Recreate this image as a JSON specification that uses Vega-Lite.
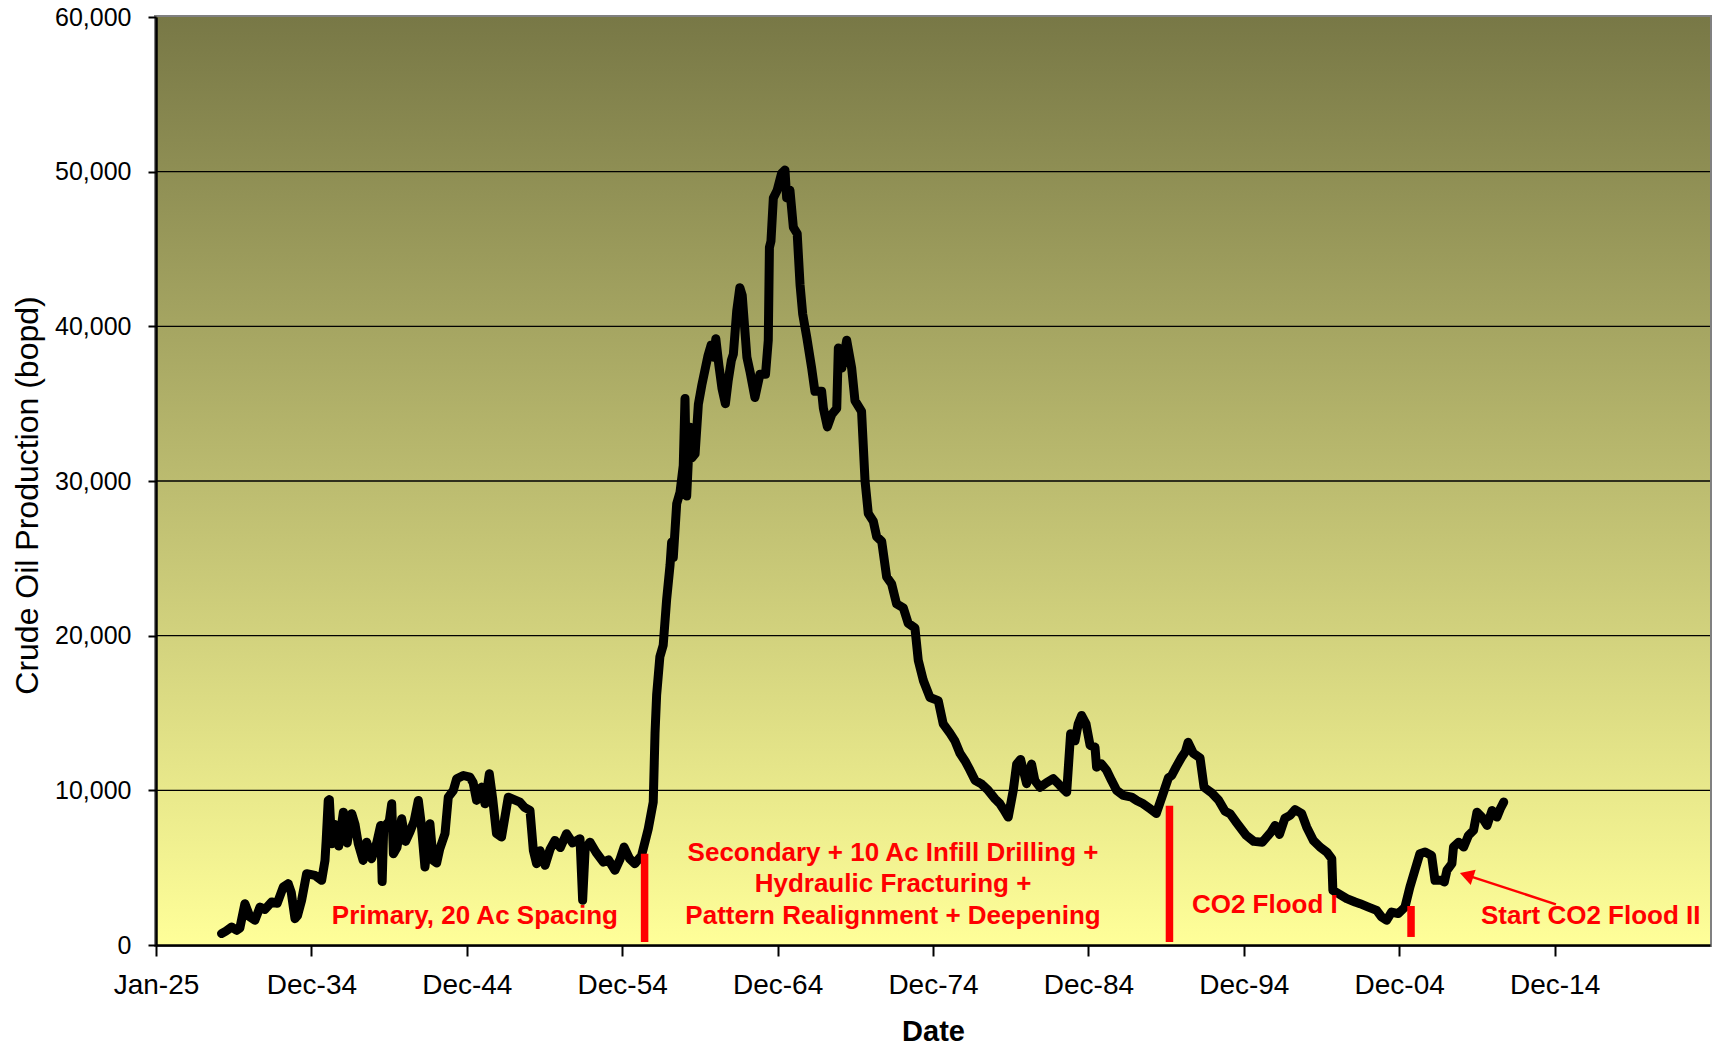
{
  "$schema": "https://vega.github.io/schema/vega-lite/v6.json",
  "width": 1554,
  "height": 928,
  "autosize": {"type": "none"},
  "padding": {"left": 156, "top": 17, "right": 15, "bottom": 100},
  "background": "white",
  "config": {"view": {"stroke": "#808080", "strokeWidth": 4}, "font": "Liberation Sans"},
  "datasets": {
    "frame": [{"date": "1925-01-01", "date2": "2024-12-07", "value": 0, "value2": 60000}],
    "grid": [{"value": 10000}, {"value": 20000}, {"value": 30000}, {"value": 40000}, {"value": 50000}],
    "bars": [
      {"date": "1956-06-03", "value": 200, "value2": 5900},
      {"date": "1990-03-05", "value": 200, "value2": 9000},
      {"date": "2005-09-16", "value": 520, "value2": 2520}
    ],
    "labels": [
      {"date": "1945-07-05", "value": 1867, "label": "Primary, 20 Ac Spacing"},
      {"date": "1972-05-25", "value": 5956, "label": "Secondary + 10 Ac Infill Drilling +\nHydraulic Fracturing +\nPattern Realignment + Deepening"},
      {"date": "1996-04-22", "value": 2565, "label": "CO2 Flood I"},
      {"date": "2017-04-07", "value": 1900, "label": "Start CO2 Flood II"}
    ],
    "arrow": [{"date": "2015-01-10", "value": 2630, "date2": "2009-04-12", "value2": 4516}],
    "arrowhead": [{"date": "2009-04-12", "value": 4516}],
    "production": [
      {"date": "1929-03-20", "value": 740},
      {"date": "1929-07-01", "value": 900},
      {"date": "1929-11-14", "value": 1160},
      {"date": "1930-03-09", "value": 950},
      {"date": "1930-05-25", "value": 1100},
      {"date": "1930-09-20", "value": 2670},
      {"date": "1931-01-19", "value": 1810},
      {"date": "1931-05-14", "value": 1600},
      {"date": "1931-09-09", "value": 2450},
      {"date": "1932-01-01", "value": 2300},
      {"date": "1932-06-09", "value": 2780},
      {"date": "1932-10-19", "value": 2700},
      {"date": "1933-03-09", "value": 3750},
      {"date": "1933-07-04", "value": 3970},
      {"date": "1933-09-13", "value": 3400},
      {"date": "1933-12-09", "value": 1705},
      {"date": "1934-02-07", "value": 1900},
      {"date": "1934-05-14", "value": 2890},
      {"date": "1934-09-09", "value": 4610},
      {"date": "1935-03-23", "value": 4500},
      {"date": "1935-08-28", "value": 4180},
      {"date": "1935-11-14", "value": 5470},
      {"date": "1935-12-13", "value": 6800},
      {"date": "1936-01-29", "value": 9350},
      {"date": "1936-02-25", "value": 9400},
      {"date": "1936-04-19", "value": 6550},
      {"date": "1936-07-01", "value": 7800},
      {"date": "1936-10-01", "value": 6400},
      {"date": "1937-01-19", "value": 8590},
      {"date": "1937-04-19", "value": 6600},
      {"date": "1937-08-03", "value": 8490},
      {"date": "1937-10-19", "value": 7800},
      {"date": "1938-01-04", "value": 6550},
      {"date": "1938-04-29", "value": 5470},
      {"date": "1938-07-19", "value": 6650},
      {"date": "1938-11-14", "value": 5580},
      {"date": "1939-03-13", "value": 6600},
      {"date": "1939-06-13", "value": 7730},
      {"date": "1939-07-19", "value": 4100},
      {"date": "1939-08-25", "value": 7600},
      {"date": "1940-01-01", "value": 8000},
      {"date": "1940-02-28", "value": 9130},
      {"date": "1940-04-08", "value": 5900},
      {"date": "1940-07-01", "value": 6300},
      {"date": "1940-10-19", "value": 8160},
      {"date": "1941-01-19", "value": 6700},
      {"date": "1941-04-29", "value": 7300},
      {"date": "1941-08-07", "value": 8000},
      {"date": "1941-11-14", "value": 9350},
      {"date": "1942-01-19", "value": 7900},
      {"date": "1942-04-19", "value": 5040},
      {"date": "1942-08-14", "value": 7840},
      {"date": "1942-10-29", "value": 5470},
      {"date": "1943-01-19", "value": 5300},
      {"date": "1943-04-01", "value": 6200},
      {"date": "1943-08-03", "value": 7200},
      {"date": "1943-10-19", "value": 9560},
      {"date": "1944-02-14", "value": 9990},
      {"date": "1944-05-03", "value": 10750},
      {"date": "1944-10-08", "value": 10960},
      {"date": "1945-03-09", "value": 10850},
      {"date": "1945-05-25", "value": 10500},
      {"date": "1945-08-14", "value": 9350},
      {"date": "1945-12-13", "value": 10210},
      {"date": "1946-02-28", "value": 9130},
      {"date": "1946-06-09", "value": 11070},
      {"date": "1946-08-25", "value": 9500},
      {"date": "1946-11-25", "value": 7200},
      {"date": "1947-03-23", "value": 6980},
      {"date": "1947-08-28", "value": 9560},
      {"date": "1948-05-28", "value": 9240},
      {"date": "1948-09-13", "value": 8900},
      {"date": "1949-01-19", "value": 8700},
      {"date": "1949-04-08", "value": 6120},
      {"date": "1949-06-23", "value": 5260},
      {"date": "1949-09-13", "value": 6100},
      {"date": "1950-01-08", "value": 5150},
      {"date": "1950-05-07", "value": 6200},
      {"date": "1950-08-28", "value": 6760},
      {"date": "1951-01-01", "value": 6300},
      {"date": "1951-05-28", "value": 7200},
      {"date": "1951-10-19", "value": 6600},
      {"date": "1952-04-08", "value": 6870},
      {"date": "1952-06-09", "value": 2890},
      {"date": "1952-08-07", "value": 6200},
      {"date": "1952-11-28", "value": 6650},
      {"date": "1953-04-19", "value": 6000},
      {"date": "1953-10-08", "value": 5360},
      {"date": "1954-02-07", "value": 5500},
      {"date": "1954-07-08", "value": 4830},
      {"date": "1954-11-03", "value": 5540},
      {"date": "1955-02-07", "value": 6330},
      {"date": "1955-06-13", "value": 5600},
      {"date": "1955-10-19", "value": 5260},
      {"date": "1956-03-23", "value": 5780},
      {"date": "1956-08-28", "value": 7510},
      {"date": "1956-12-23", "value": 9240},
      {"date": "1957-02-03", "value": 13700},
      {"date": "1957-03-13", "value": 16170},
      {"date": "1957-05-28", "value": 18640},
      {"date": "1957-08-14", "value": 19380},
      {"date": "1957-11-03", "value": 22350},
      {"date": "1958-01-22", "value": 24570},
      {"date": "1958-02-28", "value": 26050},
      {"date": "1958-04-08", "value": 25060},
      {"date": "1958-06-27", "value": 28530},
      {"date": "1958-09-13", "value": 29270},
      {"date": "1958-11-28", "value": 31000},
      {"date": "1959-01-08", "value": 35330},
      {"date": "1959-02-17", "value": 29030},
      {"date": "1959-05-03", "value": 33480},
      {"date": "1959-06-13", "value": 31490},
      {"date": "1959-09-02", "value": 31750},
      {"date": "1959-11-18", "value": 34960},
      {"date": "1960-02-07", "value": 36200},
      {"date": "1960-04-22", "value": 37190},
      {"date": "1960-07-01", "value": 38100},
      {"date": "1960-09-13", "value": 38800},
      {"date": "1960-11-07", "value": 38000},
      {"date": "1961-01-01", "value": 39200},
      {"date": "1961-03-13", "value": 37500},
      {"date": "1961-05-25", "value": 36000},
      {"date": "1961-08-14", "value": 35000},
      {"date": "1961-10-19", "value": 36500},
      {"date": "1962-01-01", "value": 37800},
      {"date": "1962-02-17", "value": 38200},
      {"date": "1962-05-07", "value": 41000},
      {"date": "1962-07-19", "value": 42500},
      {"date": "1962-09-13", "value": 42000},
      {"date": "1962-11-07", "value": 40000},
      {"date": "1963-01-01", "value": 38000},
      {"date": "1963-03-13", "value": 37100},
      {"date": "1963-07-08", "value": 35400},
      {"date": "1963-11-03", "value": 36900},
      {"date": "1964-03-13", "value": 36900},
      {"date": "1964-05-17", "value": 39100},
      {"date": "1964-06-13", "value": 45100},
      {"date": "1964-07-19", "value": 45500},
      {"date": "1964-09-13", "value": 48300},
      {"date": "1964-12-13", "value": 48800},
      {"date": "1965-03-27", "value": 49900},
      {"date": "1965-06-13", "value": 50100},
      {"date": "1965-07-23", "value": 48300},
      {"date": "1965-10-08", "value": 48800},
      {"date": "1965-12-27", "value": 46400},
      {"date": "1966-03-27", "value": 46000},
      {"date": "1966-06-02", "value": 42700},
      {"date": "1966-08-03", "value": 40800},
      {"date": "1966-11-07", "value": 39300},
      {"date": "1967-03-02", "value": 37300},
      {"date": "1967-05-17", "value": 35800},
      {"date": "1967-10-22", "value": 35800},
      {"date": "1967-12-02", "value": 34700},
      {"date": "1968-03-05", "value": 33500},
      {"date": "1968-06-16", "value": 34300},
      {"date": "1968-10-11", "value": 34700},
      {"date": "1968-11-18", "value": 38600},
      {"date": "1969-02-07", "value": 37300},
      {"date": "1969-06-02", "value": 39100},
      {"date": "1969-09-27", "value": 37300},
      {"date": "1969-12-13", "value": 35200},
      {"date": "1970-05-17", "value": 34500},
      {"date": "1970-08-07", "value": 30000},
      {"date": "1970-10-22", "value": 27900},
      {"date": "1971-02-17", "value": 27400},
      {"date": "1971-05-07", "value": 26400},
      {"date": "1971-09-02", "value": 26100},
      {"date": "1971-12-27", "value": 23800},
      {"date": "1972-04-22", "value": 23350},
      {"date": "1972-08-17", "value": 22050},
      {"date": "1973-01-22", "value": 21800},
      {"date": "1973-05-17", "value": 20800},
      {"date": "1973-10-22", "value": 20500},
      {"date": "1974-01-08", "value": 18400},
      {"date": "1974-05-07", "value": 17100},
      {"date": "1974-10-11", "value": 16000},
      {"date": "1975-04-22", "value": 15800},
      {"date": "1975-08-17", "value": 14300},
      {"date": "1976-01-22", "value": 13700},
      {"date": "1976-05-17", "value": 13200},
      {"date": "1976-09-13", "value": 12400},
      {"date": "1977-01-11", "value": 11900},
      {"date": "1977-05-07", "value": 11300},
      {"date": "1977-09-02", "value": 10650},
      {"date": "1978-02-07", "value": 10400},
      {"date": "1978-07-08", "value": 10000},
      {"date": "1978-12-16", "value": 9450},
      {"date": "1979-04-11", "value": 9130},
      {"date": "1979-07-19", "value": 8700},
      {"date": "1979-10-22", "value": 8270},
      {"date": "1980-02-17", "value": 10000},
      {"date": "1980-05-07", "value": 11700},
      {"date": "1980-08-07", "value": 12000},
      {"date": "1980-12-27", "value": 10430},
      {"date": "1981-04-22", "value": 11700},
      {"date": "1981-07-08", "value": 10640},
      {"date": "1981-11-07", "value": 10200},
      {"date": "1982-04-11", "value": 10500},
      {"date": "1982-09-13", "value": 10750},
      {"date": "1983-01-11", "value": 10430},
      {"date": "1983-03-27", "value": 10200},
      {"date": "1983-07-26", "value": 9880},
      {"date": "1983-10-26", "value": 13660},
      {"date": "1984-02-07", "value": 13200},
      {"date": "1984-04-22", "value": 14300},
      {"date": "1984-07-11", "value": 14840},
      {"date": "1984-10-22", "value": 14300},
      {"date": "1985-01-26", "value": 12900},
      {"date": "1985-05-21", "value": 12800},
      {"date": "1985-06-27", "value": 11500},
      {"date": "1985-10-22", "value": 11700},
      {"date": "1986-02-17", "value": 11300},
      {"date": "1986-06-13", "value": 10640},
      {"date": "1986-10-11", "value": 10000},
      {"date": "1987-03-16", "value": 9670},
      {"date": "1987-09-27", "value": 9560},
      {"date": "1988-01-22", "value": 9350},
      {"date": "1988-06-27", "value": 9130},
      {"date": "1988-12-02", "value": 8810},
      {"date": "1989-04-29", "value": 8500},
      {"date": "1989-09-13", "value": 9600},
      {"date": "1990-02-07", "value": 10800},
      {"date": "1990-04-26", "value": 10960},
      {"date": "1990-08-07", "value": 11500},
      {"date": "1990-12-16", "value": 12140},
      {"date": "1991-03-13", "value": 12500},
      {"date": "1991-05-17", "value": 13100},
      {"date": "1991-09-16", "value": 12400},
      {"date": "1992-02-21", "value": 12100},
      {"date": "1992-05-25", "value": 10200},
      {"date": "1992-11-21", "value": 9830},
      {"date": "1993-05-07", "value": 9350},
      {"date": "1993-10-01", "value": 8650},
      {"date": "1994-01-26", "value": 8490},
      {"date": "1994-07-01", "value": 7900},
      {"date": "1995-02-07", "value": 7100},
      {"date": "1995-08-07", "value": 6700},
      {"date": "1996-02-25", "value": 6650},
      {"date": "1996-09-13", "value": 7300},
      {"date": "1996-12-20", "value": 7730},
      {"date": "1997-04-01", "value": 7150},
      {"date": "1997-08-07", "value": 8200},
      {"date": "1997-12-06", "value": 8380},
      {"date": "1998-04-01", "value": 8750},
      {"date": "1998-09-06", "value": 8490},
      {"date": "1999-01-01", "value": 7620},
      {"date": "1999-06-06", "value": 6760},
      {"date": "1999-11-11", "value": 6330},
      {"date": "2000-04-15", "value": 6010},
      {"date": "2000-08-11", "value": 5580},
      {"date": "2000-09-06", "value": 3530},
      {"date": "2001-01-15", "value": 3320},
      {"date": "2001-07-29", "value": 3000},
      {"date": "2002-02-10", "value": 2780},
      {"date": "2002-06-06", "value": 2670},
      {"date": "2002-12-20", "value": 2450},
      {"date": "2003-07-01", "value": 2240},
      {"date": "2003-10-26", "value": 1810},
      {"date": "2004-02-21", "value": 1600},
      {"date": "2004-06-16", "value": 2130},
      {"date": "2004-11-21", "value": 2030},
      {"date": "2005-04-26", "value": 2450},
      {"date": "2005-08-21", "value": 3750},
      {"date": "2005-12-16", "value": 4830},
      {"date": "2006-04-11", "value": 5900},
      {"date": "2006-08-11", "value": 6010},
      {"date": "2007-01-11", "value": 5790},
      {"date": "2007-04-01", "value": 4180},
      {"date": "2007-09-06", "value": 4180},
      {"date": "2007-11-07", "value": 4070},
      {"date": "2008-01-08", "value": 4830},
      {"date": "2008-05-03", "value": 5260},
      {"date": "2008-06-09", "value": 6330},
      {"date": "2008-10-08", "value": 6650},
      {"date": "2009-02-03", "value": 6330},
      {"date": "2009-05-28", "value": 7090},
      {"date": "2009-09-23", "value": 7410},
      {"date": "2009-12-13", "value": 8590},
      {"date": "2010-04-08", "value": 8270},
      {"date": "2010-08-07", "value": 7730},
      {"date": "2010-12-02", "value": 8700},
      {"date": "2011-03-27", "value": 8270},
      {"date": "2011-06-13", "value": 8810},
      {"date": "2011-09-02", "value": 9240}
    ]
  },
  "layer": [
    {
      "data": {"name": "frame"},
      "mark": {"type": "rect", "color": {"gradient": "linear", "x1": 0, "y1": 0, "x2": 0, "y2": 1, "stops": [{"offset": 0, "color": "#787846"}, {"offset": 1, "color": "#ffff99"}]}},
      "encoding": {
        "x": {
          "field": "date", "type": "temporal",
          "scale": {"domain": [{"year": 1925, "month": 1, "date": 1}, {"year": 2024, "month": 12, "date": 7}], "nice": false},
          "axis": {
            "title": "Date",
            "values": [
              {"year": 1925, "month": 1, "date": 1},
              {"year": 1934, "month": 12, "date": 30},
              {"year": 1944, "month": 12, "date": 27},
              {"year": 1954, "month": 12, "date": 25},
              {"year": 1964, "month": 12, "date": 22},
              {"year": 1974, "month": 12, "date": 20},
              {"year": 1984, "month": 12, "date": 17},
              {"year": 1994, "month": 12, "date": 15},
              {"year": 2004, "month": 12, "date": 12},
              {"year": 2014, "month": 12, "date": 10}
            ],
            "format": "%b-%y",
            "labelFont": "Liberation Sans",
            "labelFontSize": 28,
            "labelColor": "black",
            "labelPadding": 15,
            "labelFlush": false,
            "labelOverlap": false,
            "tickColor": "black",
            "tickSize": 11,
            "tickWidth": 2,
            "domainColor": "black",
            "domainWidth": 2.5,
            "grid": false,
            "titleFont": "Liberation Sans",
            "titleFontWeight": "bold",
            "titleFontSize": 29,
            "titleColor": "black",
            "titleBaseline": "middle",
            "titleY": 86,
            "zindex": 1
          }
        },
        "x2": {"field": "date2"},
        "y": {
          "field": "value", "type": "quantitative",
          "scale": {"domain": [0, 60000], "nice": false, "zero": true},
          "axis": {
            "title": "Crude Oil Production (bopd)",
            "values": [0, 10000, 20000, 30000, 40000, 50000, 60000],
            "format": ",.0f",
            "labelFont": "Liberation Sans",
            "labelFontSize": 25,
            "labelColor": "black",
            "labelPadding": 17,
            "labelFlush": false,
            "tickColor": "black",
            "tickSize": 8,
            "tickWidth": 2,
            "domainColor": "black",
            "domainWidth": 2.5,
            "grid": false,
            "titleFont": "Liberation Sans",
            "titleFontWeight": "normal",
            "titleFontSize": 32,
            "titleColor": "black",
            "titleBaseline": "middle",
            "titleX": -129,
            "titleY": 478,
            "zindex": 1
          }
        },
        "y2": {"field": "value2"}
      }
    },
    {
      "data": {"name": "grid"},
      "mark": {"type": "rule", "color": "black", "strokeWidth": 1.3},
      "encoding": {"y": {"field": "value", "type": "quantitative"}}
    },
    {
      "data": {"name": "production"},
      "mark": {"type": "line", "color": "black", "strokeWidth": 9, "strokeJoin": "round", "strokeCap": "round"},
      "encoding": {
        "x": {"field": "date", "type": "temporal"},
        "y": {"field": "value", "type": "quantitative"}
      }
    },
    {
      "data": {"name": "bars"},
      "mark": {"type": "rule", "color": "#ff0000", "strokeWidth": 7.5},
      "encoding": {
        "x": {"field": "date", "type": "temporal"},
        "y": {"field": "value", "type": "quantitative"},
        "y2": {"field": "value2"}
      }
    },
    {
      "data": {"name": "labels"},
      "mark": {"type": "text", "color": "#ff0000", "font": "Liberation Sans", "fontWeight": "bold", "fontSize": 26, "align": "center", "baseline": "middle", "lineBreak": "\n", "lineHeight": 31.6},
      "encoding": {
        "x": {"field": "date", "type": "temporal"},
        "y": {"field": "value", "type": "quantitative"},
        "text": {"field": "label"}
      }
    },
    {
      "data": {"name": "arrow"},
      "mark": {"type": "rule", "color": "#ff0000", "strokeWidth": 2.5},
      "encoding": {
        "x": {"field": "date", "type": "temporal"},
        "y": {"field": "value", "type": "quantitative"},
        "x2": {"field": "date2"},
        "y2": {"field": "value2"}
      }
    },
    {
      "data": {"name": "arrowhead"},
      "mark": {"type": "point", "shape": "triangle-up", "filled": true, "color": "#ff0000", "opacity": 1, "size": 260, "angle": 288},
      "encoding": {
        "x": {"field": "date", "type": "temporal"},
        "y": {"field": "value", "type": "quantitative"}
      }
    }
  ]
}
